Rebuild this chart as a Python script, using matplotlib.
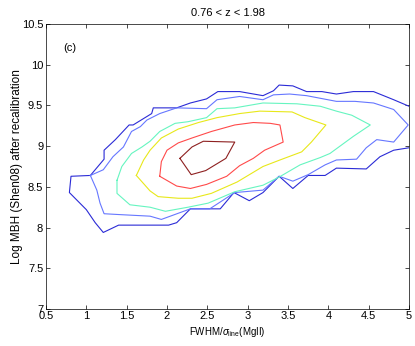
import matplotlib
matplotlib.use("Agg")
import matplotlib.pyplot as plt

plt.rcParams['font.family'] = ['Liberation Sans', 'DejaVu Sans']
plt.rcParams['mathtext.fontset'] = 'custom'
plt.rcParams['mathtext.rm'] = 'Liberation Sans'
plt.rcParams['mathtext.it'] = 'Liberation Sans:italic'

# contour levels (outer -> inner)
x1 = [5.0, 4.81, 4.56, 4.31, 4.10, 3.92, 3.73, 3.56, 3.39, 3.32, 3.19, 2.90, 2.82, 2.63, 2.49, 2.29,
      2.12, 1.83, 1.81, 1.58, 1.53, 1.36, 1.22, 1.22, 1.05, 0.81, 0.79, 1.00, 1.11, 1.21, 1.40, 2.02,
      2.12, 2.29, 2.66, 2.83, 3.02, 3.19, 3.39, 3.56, 3.75, 3.96, 4.10, 4.47, 4.64, 4.81, 5.0]
y1 = [9.49, 9.57, 9.67, 9.67, 9.64, 9.67, 9.67, 9.74, 9.75, 9.68, 9.62, 9.67, 9.67, 9.67, 9.58, 9.53,
      9.47, 9.47, 9.40, 9.26, 9.26, 9.08, 8.95, 8.84, 8.64, 8.63, 8.43, 8.22, 8.06, 7.94, 8.03, 8.03,
      8.06, 8.23, 8.23, 8.43, 8.33, 8.43, 8.63, 8.48, 8.64, 8.64, 8.73, 8.72, 8.87, 8.95, 8.98]

x2 = [1.05, 1.21, 1.33, 1.46, 1.56, 1.67, 1.75, 1.91, 2.12, 2.49, 2.62, 2.90, 3.19, 3.32, 3.52, 3.73,
      4.10, 4.33, 4.56, 4.81, 4.99, 4.81, 4.60, 4.47, 4.35, 4.10, 3.96, 3.75, 3.56, 3.39, 3.19, 2.84,
      2.53, 2.29, 1.93, 1.79, 1.40, 1.22, 1.17, 1.13, 1.05]
y2 = [8.64, 8.71, 8.87, 8.99, 9.18, 9.24, 9.32, 9.40, 9.47, 9.46, 9.57, 9.61, 9.57, 9.63, 9.64, 9.62,
      9.55, 9.55, 9.53, 9.45, 9.26, 9.05, 9.08, 8.98, 8.84, 8.83, 8.77, 8.65, 8.57, 8.63, 8.46, 8.43,
      8.23, 8.23, 8.10, 8.14, 8.16, 8.17, 8.30, 8.46, 8.64]

x3 = [1.38, 1.44, 1.56, 1.69, 1.79, 1.91, 2.10, 2.26, 2.49, 2.62, 2.84, 3.19, 3.61, 3.90, 4.10, 4.29,
      4.52, 4.31, 4.02, 3.90, 3.65, 3.39, 3.19, 2.84, 2.51, 2.26, 1.98, 1.79, 1.54, 1.38, 1.38]
y3 = [8.58, 8.75, 8.91, 8.99, 9.06, 9.18, 9.28, 9.30, 9.35, 9.46, 9.47, 9.53, 9.52, 9.49, 9.43, 9.38,
      9.26, 9.12, 8.91, 8.86, 8.77, 8.62, 8.52, 8.44, 8.30, 8.25, 8.20, 8.25, 8.28, 8.42, 8.58]

x4 = [1.62, 1.71, 1.79, 1.93, 2.14, 2.39, 2.62, 2.90, 3.15, 3.55, 3.71, 3.97, 3.79, 3.67, 3.40, 3.19,
      2.87, 2.55, 2.31, 2.14, 1.89, 1.79, 1.62]
y4 = [8.64, 8.83, 8.95, 9.10, 9.21, 9.29, 9.35, 9.40, 9.43, 9.42, 9.35, 9.26, 9.05, 8.93, 8.83, 8.75,
      8.56, 8.42, 8.36, 8.36, 8.38, 8.45, 8.64]

x5 = [1.91, 1.93, 2.00, 2.14, 2.31, 2.55, 2.84, 3.07, 3.28, 3.40, 3.44, 3.21, 3.07, 2.90, 2.74, 2.49,
      2.29, 2.12, 1.91]
y5 = [8.63, 8.81, 8.95, 9.04, 9.10, 9.18, 9.26, 9.29, 9.28, 9.26, 9.05, 8.95, 8.85, 8.76, 8.63, 8.53,
      8.48, 8.51, 8.63]

x6 = [2.16, 2.31, 2.45, 2.84, 2.73, 2.48, 2.30, 2.16]
y6 = [8.85, 8.99, 9.06, 9.05, 8.85, 8.70, 8.65, 8.85]

xticks = [0.5, 1, 1.5, 2, 2.5, 3, 3.5, 4, 4.5, 5]
yticks = [7, 7.5, 8, 8.5, 9, 9.5, 10, 10.5]

levels = [(x1, y1, '#2b2bd6'), (x2, y2, '#6677ff'), (x3, y3, '#66f5c0'),
          (x4, y4, '#e8e81a'), (x5, y5, '#ff4a4a'), (x6, y6, '#8e2020')]

fig = plt.figure(figsize=(4.15, 3.46), dpi=100)
ax = fig.add_axes([46/415, 37/346, 363/415, 285/346])

for xs, ys, c in levels:
    ax.plot(xs, ys, color=c, lw=0.8)

ax.set_xlim(0.5, 5)
ax.set_ylim(7, 10.5)
ax.set_xticks(xticks)
ax.set_xticklabels(['%g' % v for v in xticks])
ax.set_yticks(yticks)
ax.set_yticklabels(['%g' % v for v in yticks])
ax.tick_params(direction='in', top=True, right=True, length=3, width=0.5, labelsize=8)
ax.tick_params(axis='x', pad=1.5)
ax.tick_params(axis='y', pad=2)
for s in ax.spines.values():
    s.set_linewidth(0.5)

ax.text(0.72, 10.21, '(c)', fontsize=8, va='center')
ax.set_title('0.76 < z < 1.98', fontsize=8, pad=6)
ax.set_xlabel(r'FWHM/$\sigma_{\rm line}$(MgII)', fontsize=7, labelpad=3)
ax.set_ylabel('Log MBH (Shen08) after recalibration', fontsize=8.5)
ax.yaxis.set_label_coords(-0.062, 0.5)

fig.savefig('out.png', dpi=100)
